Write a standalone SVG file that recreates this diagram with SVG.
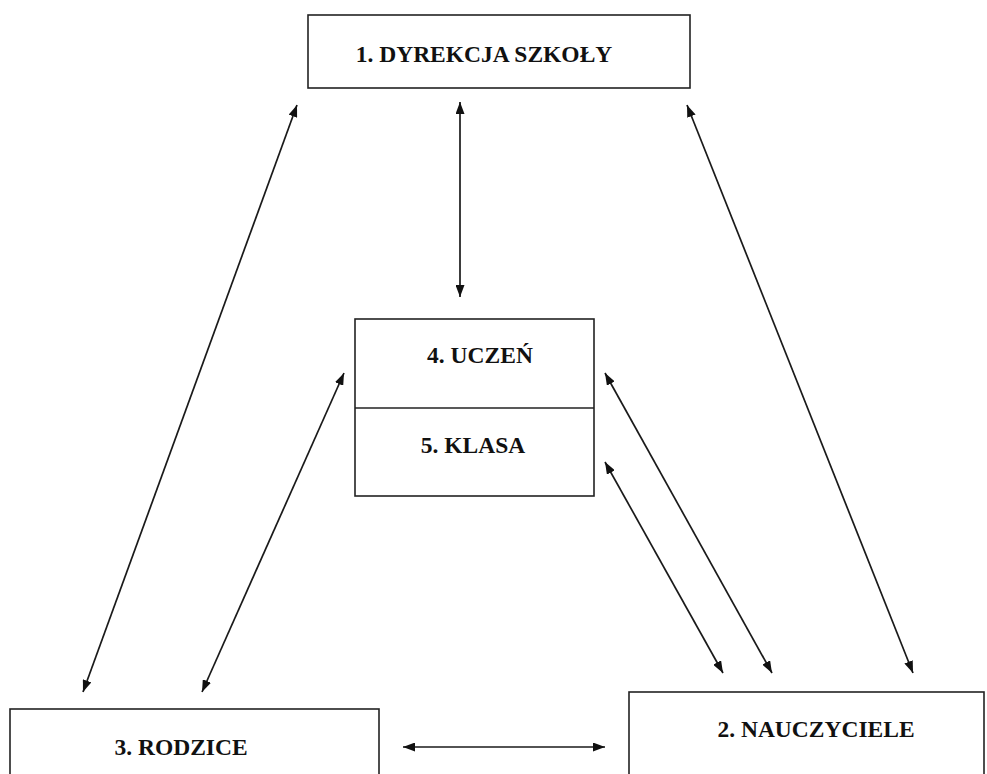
<svg xmlns="http://www.w3.org/2000/svg" width="987" height="774" viewBox="0 0 987 774">
<style>
.box{fill:#fff;stroke:#222;stroke-width:1.6}
.lbl{font-family:"Liberation Serif","Times New Roman",serif;font-weight:bold;font-size:23.5px;fill:#111;text-anchor:middle}
.con{stroke:#1a1a1a;stroke-width:1.7;fill:none;marker-start:url(#ah);marker-end:url(#ah)}
</style>
<defs>
<marker id="ah" viewBox="0 0 12 9" refX="12" refY="4.5" markerWidth="12" markerHeight="9" markerUnits="userSpaceOnUse" orient="auto-start-reverse">
<path d="M0,0 L12,4.5 L0,9 Z" fill="#111"/>
</marker>
</defs>
<rect width="987" height="774" fill="#fff"/>
<g id="node-dyrekcja">
<rect class="box" x="308" y="15" width="382" height="73"/>
<text class="lbl" x="484" y="62">1. DYREKCJA SZKOŁY</text>
</g>
<g id="node-uczen-klasa">
<rect class="box" x="355" y="319" width="239" height="177"/>
<line x1="355" y1="408" x2="594" y2="408" stroke="#222" stroke-width="1.6"/>
<text class="lbl" x="480" y="363">4. UCZEŃ</text>
<text class="lbl" x="473" y="453">5. KLASA</text>
</g>
<g id="node-rodzice">
<rect class="box" x="10" y="709" width="369" height="90"/>
<text class="lbl" x="181" y="755">3. RODZICE</text>
</g>
<g id="node-nauczyciele">
<rect class="box" x="629" y="692" width="355" height="100"/>
<text class="lbl" x="816" y="737">2. NAUCZYCIELE</text>
</g>
<g id="connectors">
<line class="con" x1="83" y1="692" x2="297" y2="105"/>
<line class="con" x1="460" y1="102" x2="460" y2="297"/>
<line class="con" x1="687" y1="105" x2="913" y2="673"/>
<line class="con" x1="202" y1="692" x2="344" y2="373"/>
<line class="con" x1="772" y1="673" x2="605" y2="373"/>
<line class="con" x1="723" y1="673" x2="605" y2="462"/>
<line class="con" x1="403" y1="747" x2="605" y2="747"/>
</g>
</svg>
